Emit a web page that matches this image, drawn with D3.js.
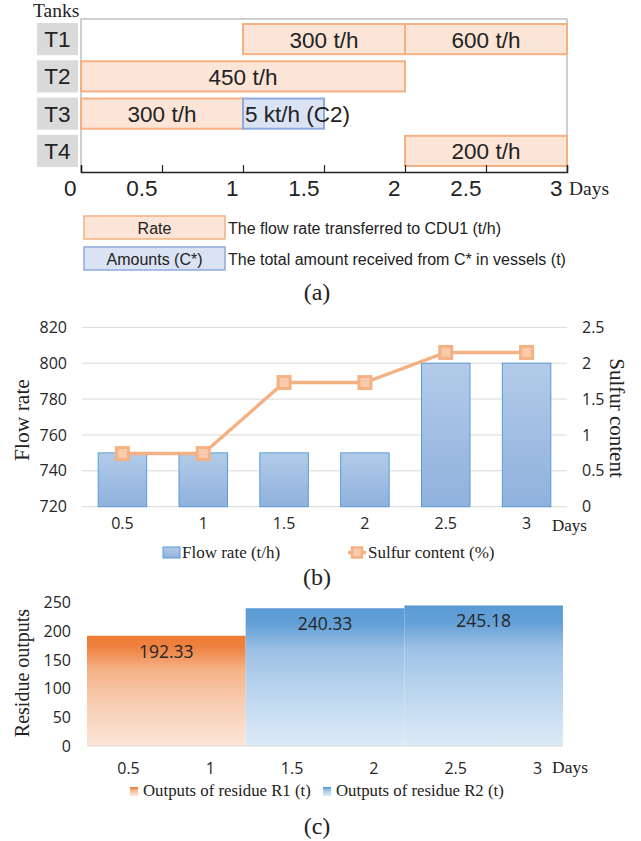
<!DOCTYPE html>
<html lang="en">
  <head>
    <meta charset="utf-8">
    <title>Tank schedule, flow rate and residue outputs</title>
    <script type="text/javascript" src="https://d3js.org/d3.v7.min.js"></script>
    <style type="text/css">
      body {
        margin: 0;
        background: #ffffff;
      }
      svg {
        display: block;
      }
      .serif {
        font-family: "Liberation Serif", "Times New Roman", serif;
        fill: #222222;
      }
      .arial {
        font-family: "Liberation Sans", Arial, sans-serif;
        fill: #222222;
      }
      .segoe {
        font-family: "Open Sans", "Noto Sans", sans-serif;
        fill: #262626;
      }
    </style>
  </head>
  <body>
    <div id="chart"></div>
    <script type="text/javascript">

    // ---- data ----

    // (a) tank schedule
    const tanks = ["T1", "T2", "T3", "T4"];
    const ganttTank = ["T1", "T1", "T2", "T3", "T3", "T4"];
    const ganttStart = [1, 2, 0, 0, 1, 2];
    const ganttEnd = [2, 3, 2, 1, 1.5, 3];
    const ganttLabel = ["300 t/h", "600 t/h", "450 t/h", "300 t/h", "5 kt/h (C2)", "200 t/h"];
    const ganttKind = ["rate", "rate", "rate", "rate", "amount", "rate"];
    const dayTicks = [0, 0.5, 1, 1.5, 2, 2.5, 3];

    // (b) flow rate and sulfur
    const days = ["0.5", "1", "1.5", "2", "2.5", "3"];
    const flowRate = [750, 750, 750, 750, 800, 800];
    const sulfur = [0.74, 0.74, 1.73, 1.73, 2.15, 2.15];
    const flowTicks = [720, 740, 760, 780, 800, 820];
    const sulfurTicks = [0, 0.5, 1, 1.5, 2, 2.5];

    // (c) residue outputs
    const residueFrom = ["0.5", "1.5", "2.5"];
    const residueTo = ["1", "2", "3"];
    const residueValue = [192.33, 240.33, 245.18];
    const residueSeries = ["R1", "R2", "R2"];
    const residueTicks = [0, 50, 100, 150, 200, 250];

    const W = 641, H = 841;

    const svg = d3.select('#chart')
      .append('svg')
      .attr('width', W)
      .attr('height', H);

    const defs = svg.append('defs');

    function gradient(id, stops) {
      const g = defs.append('linearGradient')
        .attr('id', id)
        .attr('x1', 0).attr('y1', 0)
        .attr('x2', 0).attr('y2', 1);
      stops.forEach(s => g.append('stop')
        .attr('offset', s[0])
        .attr('stop-color', s[1]));
    }

    gradient('gradFlow', [[0, '#b3cbe9'], [1, '#8fb1dd']]);
    gradient('gradR1', [[0, '#ed7d31'], [0.1, '#ee8140'], [0.3, '#f4b084'], [0.6, '#f8cdb1'], [1, '#fbe6d8']]);
    gradient('gradR2', [[0, '#5b9bd5'], [0.12, '#64a0d7'], [0.3, '#9cc0e5'], [0.6, '#bad5ee'], [1, '#ddeaf7']]);

    // =========================================================
    // (a) Gantt of tanks
    // =========================================================

    const gA = svg.append('g');

    const xA = d3.scaleLinear().domain([0, 3]).range([81, 567]);
    const yA = d3.scaleBand().domain(tanks).range([24, 166]).paddingInner(0.19);

    // plot border (grey)
    gA.append('path')
      .attr('d', `M${xA(0)},172V19H${xA(3)}V172`)
      .attr('fill', 'none')
      .attr('stroke', '#c0c0c0')
      .attr('stroke-width', 1.5);

    // tank labels
    const tankG = gA.selectAll('g.tank')
      .data(tanks)
      .enter()
      .append('g')
      .attr('class', 'tank');

    tankG.append('rect')
      .attr('x', 37)
      .attr('y', d => yA(d) - 1)
      .attr('width', 41)
      .attr('height', yA.bandwidth() + 2)
      .attr('fill', '#dadada');

    tankG.append('text')
      .attr('class', 'arial')
      .attr('x', 57.5)
      .attr('y', d => yA(d) + yA.bandwidth() / 2 + 8)
      .attr('text-anchor', 'middle')
      .attr('font-size', 22.5)
      .text(d => d);

    gA.append('text')
      .attr('class', 'serif')
      .attr('x', 33)
      .attr('y', 17)
      .attr('font-size', 19.5)
      .text('Tanks');

    // schedule bars
    const tasks = ganttTank.map((t, i) => ({
      tank: t, start: ganttStart[i], end: ganttEnd[i], label: ganttLabel[i], kind: ganttKind[i]
    }));

    gA.selectAll('rect.task')
      .data(tasks)
      .enter()
      .append('rect')
      .attr('class', 'task')
      .attr('x', d => xA(d.start))
      .attr('y', d => yA(d.tank))
      .attr('width', d => xA(d.end) - xA(d.start))
      .attr('height', yA.bandwidth())
      .attr('fill', d => d.kind == 'rate' ? '#fce4d6' : '#dae3f3')
      .attr('stroke', d => d.kind == 'rate' ? '#f4b183' : '#8faadc')
      .attr('stroke-width', 2);

    gA.selectAll('text.task')
      .data(tasks)
      .enter()
      .append('text')
      .attr('class', 'task arial')
      .attr('x', d => d.kind == 'rate' ? (xA(d.start) + xA(d.end)) / 2 : xA(d.start) + 2)
      .attr('y', d => yA(d.tank) + yA.bandwidth() / 2 + 8.5)
      .attr('text-anchor', d => d.kind == 'rate' ? 'middle' : 'start')
      .attr('font-size', 22.5)
      .text(d => d.label);

    // day axis
    const axA = gA.append('g')
      .attr('transform', 'translate(0,172)')
      .call(d3.axisBottom(xA).tickValues(dayTicks).tickSize(-7).tickFormat(d => d));

    axA.select('.domain').attr('stroke', '#222').attr('stroke-width', 1.5);
    axA.selectAll('.tick line').attr('stroke', '#222').attr('stroke-width', 1.2);
    axA.selectAll('text')
      .attr('class', 'arial')
      .attr('font-size', 22.5)
      .attr('text-anchor', 'end')
      .attr('x', -5)
      .attr('y', 24)
      .attr('dy', 0)
      .attr('fill', '#222');
    axA.attr('font-family', null).attr('font-size', null);

    gA.append('text')
      .attr('class', 'serif')
      .attr('x', 569)
      .attr('y', 195)
      .attr('font-size', 19.5)
      .text('Days');

    // legend
    const legA = [
      {box: 'Rate', desc: 'The flow rate transferred to CDU1 (t/h)', fill: '#fce4d6', stroke: '#f4b183', y: 216},
      {box: 'Amounts (C*)', desc: 'The total amount received from C* in vessels (t)', fill: '#dae3f3', stroke: '#8faadc', y: 247}
    ];

    legA.forEach(l => {
      gA.append('rect')
        .attr('x', 84)
        .attr('y', l.y)
        .attr('width', 141)
        .attr('height', 23)
        .attr('fill', l.fill)
        .attr('stroke', l.stroke)
        .attr('stroke-width', 1.5);
      gA.append('text')
        .attr('class', 'arial')
        .attr('x', 154.5)
        .attr('y', l.y + 18)
        .attr('text-anchor', 'middle')
        .attr('font-size', 16)
        .text(l.box);
      gA.append('text')
        .attr('class', 'arial')
        .attr('x', 228)
        .attr('y', l.y + 18)
        .attr('font-size', 16)
        .text(l.desc);
    });

    gA.append('text')
      .attr('class', 'serif')
      .attr('x', 317)
      .attr('y', 300)
      .attr('text-anchor', 'middle')
      .attr('font-size', 24)
      .text('(a)');

    // =========================================================
    // (b) flow rate bars + sulfur line
    // =========================================================

    const gB = svg.append('g');

    const xB = d3.scaleBand().domain(days).range([82, 567]).paddingInner(0.4).paddingOuter(0.2);
    const yB = d3.scaleLinear().domain([720, 820]).range([506.7, 327.3]);
    const yS = d3.scaleLinear().domain([0, 2.5]).range([506.7, 327.3]);

    gB.selectAll('line.grid')
      .data(flowTicks)
      .enter()
      .append('line')
      .attr('class', 'grid')
      .attr('x1', 82)
      .attr('x2', 567)
      .attr('y1', d => yB(d))
      .attr('y2', d => yB(d))
      .attr('stroke', '#d9d9d9')
      .attr('stroke-width', 1);

    gB.selectAll('rect.flow')
      .data(flowRate)
      .enter()
      .append('rect')
      .attr('class', 'flow')
      .attr('x', (d, i) => xB(days[i]))
      .attr('y', d => yB(d))
      .attr('width', xB.bandwidth())
      .attr('height', d => yB(720) - yB(d))
      .attr('fill', 'url(#gradFlow)')
      .attr('stroke', '#5b9bd5')
      .attr('stroke-width', 1);

    const line = d3.line()
      .x((d, i) => xB(days[i]) + xB.bandwidth() / 2)
      .y(d => yS(d));

    gB.append('path')
      .datum(sulfur)
      .attr('d', line)
      .attr('fill', 'none')
      .attr('stroke', '#f4b183')
      .attr('stroke-width', 3.5);

    gB.selectAll('rect.marker')
      .data(sulfur)
      .enter()
      .append('rect')
      .attr('class', 'marker')
      .attr('x', (d, i) => xB(days[i]) + xB.bandwidth() / 2 - 6)
      .attr('y', d => yS(d) - 6)
      .attr('width', 12)
      .attr('height', 12)
      .attr('fill', '#f8cbad')
      .attr('stroke', '#f4b183')
      .attr('stroke-width', 3);

    // axes
    const axBL = gB.append('g')
      .attr('transform', 'translate(82,0)')
      .call(d3.axisLeft(yB).tickValues(flowTicks).tickSize(0).tickPadding(15).tickFormat(d => d));
    const axBR = gB.append('g')
      .attr('transform', 'translate(567,0)')
      .call(d3.axisRight(yS).tickValues(sulfurTicks).tickSize(0).tickPadding(15).tickFormat(d => d));
    const axBB = gB.append('g')
      .attr('transform', 'translate(0,506.7)')
      .call(d3.axisBottom(xB).tickSize(0));

    [axBL, axBR, axBB].forEach(a => {
      a.select('.domain').remove();
      a.attr('font-family', null).attr('font-size', null);
      a.selectAll('text').attr('class', 'segoe').attr('font-size', 16).attr('fill', '#262626');
    });
    axBB.selectAll('text').attr('y', 22).attr('dy', 0);

    gB.append('text')
      .attr('class', 'serif')
      .attr('x', 552)
      .attr('y', 531)
      .attr('font-size', 17)
      .text('Days');

    gB.append('text')
      .attr('class', 'serif')
      .attr('transform', 'translate(29,420) rotate(-90)')
      .attr('text-anchor', 'middle')
      .attr('font-size', 21.5)
      .text('Flow rate');

    gB.append('text')
      .attr('class', 'serif')
      .attr('transform', 'translate(610,418) rotate(90)')
      .attr('text-anchor', 'middle')
      .attr('font-size', 21)
      .text('Sulfur content');

    // legend
    gB.append('rect')
      .attr('x', 163).attr('y', 547)
      .attr('width', 17).attr('height', 11)
      .attr('fill', 'url(#gradFlow)')
      .attr('stroke', '#5b9bd5');
    gB.append('text')
      .attr('class', 'serif')
      .attr('x', 182).attr('y', 558)
      .attr('font-size', 17)
      .text('Flow rate (t/h)');

    gB.append('line')
      .attr('x1', 348).attr('x2', 366)
      .attr('y1', 552.5).attr('y2', 552.5)
      .attr('stroke', '#f4b183')
      .attr('stroke-width', 3.5);
    gB.append('rect')
      .attr('x', 352).attr('y', 547.5)
      .attr('width', 10).attr('height', 10)
      .attr('fill', '#f8cbad')
      .attr('stroke', '#f4b183')
      .attr('stroke-width', 2.5);
    gB.append('text')
      .attr('class', 'serif')
      .attr('x', 368).attr('y', 558)
      .attr('font-size', 17)
      .text('Sulfur content (%)');

    gB.append('text')
      .attr('class', 'serif')
      .attr('x', 317)
      .attr('y', 585)
      .attr('text-anchor', 'middle')
      .attr('font-size', 24)
      .text('(b)');

    // =========================================================
    // (c) residue outputs
    // =========================================================

    const gC = svg.append('g');

    const xC = d3.scaleBand().domain(days).range([87, 563]).padding(0);
    const xCl = d3.scalePoint().domain(days).range([128, 537]);
    const yC = d3.scaleLinear().domain([0, 250]).range([746, 602.7]);

    const residue = residueValue.map((v, i) => ({
      from: residueFrom[i], to: residueTo[i], value: v, series: residueSeries[i]
    }));

    gC.selectAll('rect.res')
      .data(residue)
      .enter()
      .append('rect')
      .attr('class', 'res')
      .attr('x', d => xC(d.from))
      .attr('y', d => yC(d.value))
      .attr('width', d => xC(d.to) + xC.bandwidth() - xC(d.from))
      .attr('height', d => yC(0) - yC(d.value))
      .attr('fill', d => d.series == 'R1' ? 'url(#gradR1)' : 'url(#gradR2)');

    gC.append('line')
      .attr('x1', 87).attr('x2', 563)
      .attr('y1', yC(0)).attr('y2', yC(0))
      .attr('stroke', '#d9d9d9')
      .attr('stroke-width', 1);

    gC.selectAll('text.val')
      .data(residue)
      .enter()
      .append('text')
      .attr('class', 'val segoe')
      .attr('x', d => (xC(d.from) + xC(d.to) + xC.bandwidth()) / 2)
      .attr('y', d => yC(d.value) + 22)
      .attr('text-anchor', 'middle')
      .attr('font-size', 17.5)
      .attr('fill', '#404040')
      .text(d => d.value);

    const axCL = gC.append('g')
      .attr('transform', 'translate(87,0)')
      .call(d3.axisLeft(yC).tickValues(residueTicks).tickSize(0).tickPadding(16).tickFormat(d => d));
    const axCB = gC.append('g')
      .attr('transform', 'translate(0,746)')
      .call(d3.axisBottom(xCl).tickSize(0));

    [axCL, axCB].forEach(a => {
      a.select('.domain').remove();
      a.attr('font-family', null).attr('font-size', null);
      a.selectAll('text').attr('class', 'segoe').attr('font-size', 16).attr('fill', '#262626');
    });
    axCB.selectAll('text').attr('y', 28).attr('dy', 0);

    gC.append('text')
      .attr('class', 'serif')
      .attr('x', 552)
      .attr('y', 773)
      .attr('font-size', 17.5)
      .text('Days');

    gC.append('text')
      .attr('class', 'serif')
      .attr('transform', 'translate(29,673) rotate(-90)')
      .attr('text-anchor', 'middle')
      .attr('font-size', 20)
      .text('Residue outputs');

    // legend
    const legC = [
      {label: 'Outputs of residue R1 (t)', fill: 'url(#gradR1)', x: 130},
      {label: 'Outputs of residue R2 (t)', fill: 'url(#gradR2)', x: 323}
    ];
    legC.forEach(l => {
      gC.append('rect')
        .attr('x', l.x).attr('y', 787)
        .attr('width', 8).attr('height', 9)
        .attr('fill', l.fill);
      gC.append('text')
        .attr('class', 'serif')
        .attr('x', l.x + 13).attr('y', 796)
        .attr('font-size', 16.8)
        .text(l.label);
    });

    gC.append('text')
      .attr('class', 'serif')
      .attr('x', 317)
      .attr('y', 834)
      .attr('text-anchor', 'middle')
      .attr('font-size', 24)
      .text('(c)');

    </script>
  </body>
</html>
